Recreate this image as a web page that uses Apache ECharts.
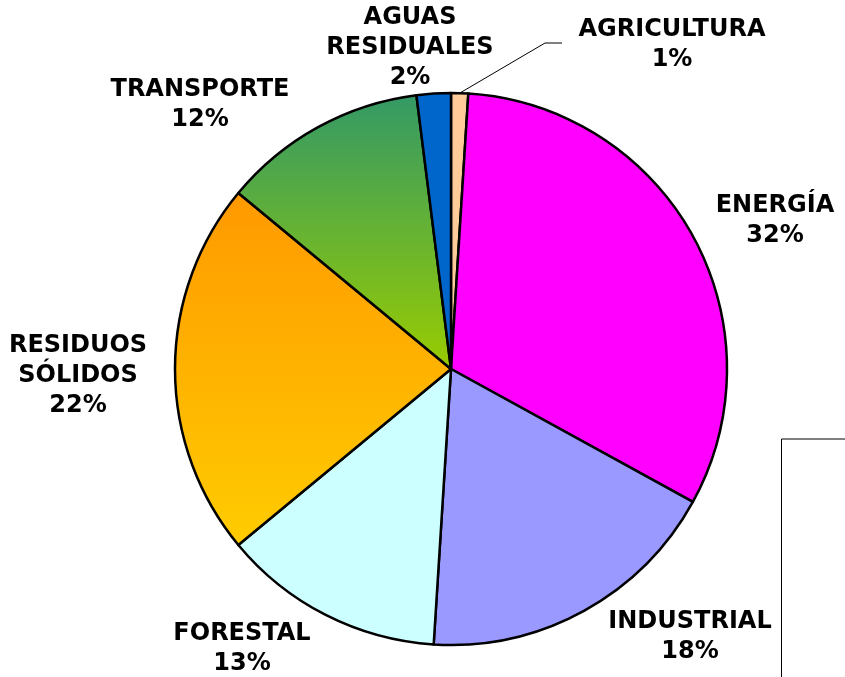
<!DOCTYPE html>
<html>
<head>
<meta charset="utf-8">
<script src="https://cdn.jsdelivr.net/npm/echarts@6/dist/echarts.min.js"></script>
<style>
    html, body { margin: 0; padding: 0; background: #fff; }
    #main { width: 845px; height: 677px; }
</style>
</head>
<body>
<div id="main"></div>
<script>
    // sectores, en orden horario desde arriba
    var sectores = ['AGRICULTURA', 'ENERGÍA', 'INDUSTRIAL', 'FORESTAL', 'RESIDUOS\nSÓLIDOS', 'TRANSPORTE', 'AGUAS\nRESIDUALES'];
    var porcentajes = [1, 32, 18, 13, 22, 12, 2];

    var colores = [
        '#FFCC99',
        '#FF00FF',
        '#9999FF',
        '#CCFFFF',
        new echarts.graphic.LinearGradient(0, 0, 0, 1, [{offset: 0, color: '#FF9900'}, {offset: 1, color: '#FFCC00'}]),
        new echarts.graphic.LinearGradient(0, 0, 0, 1, [{offset: 0, color: '#339966'}, {offset: 1, color: '#99CC00'}]),
        '#0066CC'
    ];

    // donde va cada etiqueta (centro del bloque de texto)
    var etiquetas = [[672, 45], [775, 221], [690, 637], [242, 649], [78, 376], [200, 105], [410, 48]];

    var chart = echarts.init(document.getElementById('main'));
    chart.setOption({
        animation: false,
        graphic: [{
            type: 'polyline',
            shape: {points: [[845, 439], [781.5, 439], [781.5, 677]]},
            style: {stroke: '#000', lineWidth: 1, fill: null}
        }],
        series: [{
            type: 'pie',
            center: [451, 369],
            radius: 276,
            startAngle: 90,
            clockwise: true,
            itemStyle: {borderColor: '#000', borderWidth: 2.5},
            label: {
                show: true,
                position: 'outside',
                formatter: '{b}\n{c}%',
                color: '#000',
                fontFamily: 'DejaVu Sans',
                fontWeight: 'bold',
                fontSize: 24,
                lineHeight: 30,
                align: 'center',
                overflow: 'none',
                width: 260
            },
            labelLine: {show: false, lineStyle: {color: '#000', width: 1}},
            labelLayout: function (params) {
                var p = etiquetas[params.dataIndex];
                var res = {x: p[0], y: p[1], align: 'center', verticalAlign: 'middle', hideOverlap: false};
                if (params.dataIndex === 0 && params.labelLinePoints) {
                    res.labelLinePoints = [params.labelLinePoints[0], [545, 43], [562, 43]];
                }
                return res;
            },
            emphasis: {disabled: true},
            data: sectores.map(function (name, i) {
                var item = {name: name, value: porcentajes[i], itemStyle: {color: colores[i]}};
                if (i === 0) {
                    item.labelLine = {show: true};
                }
                return item;
            })
        }]
    });
</script>
</body>
</html>
